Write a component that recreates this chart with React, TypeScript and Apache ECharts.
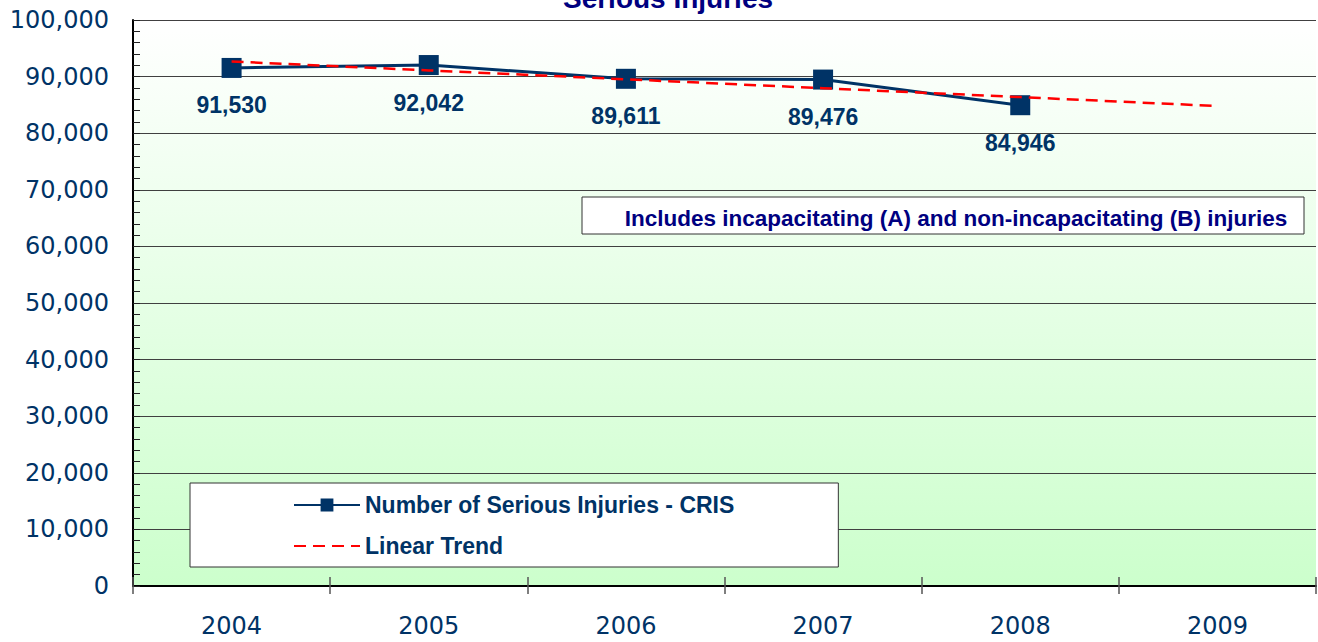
import React, { useEffect, useRef } from "react";
import * as echarts from "echarts";

const categories = ["2004", "2005", "2006", "2007", "2008", "2009"];
const injuries = [91530, 92042, 89611, 89476, 84946];
const trend = [92668, 91095, 89521, 87948, 86374, 84801];
const yMin = 0;
const yMax = 100000;
const yInterval = 10000;
const titleText = "Serious Injuries";
const noteText = "Includes incapacitating (A) and non-incapacitating (B) injuries";
const seriesNames = ["Number of Serious Injuries - CRIS", "Linear Trend"];

const NAVY = "#003366";
const fmt = (v: number) => Number(v).toLocaleString("en-US");

export default function App() {
  const ref = useRef<HTMLDivElement>(null);
  useEffect(() => {
    if (!ref.current) return;
    const chart = echarts.init(ref.current, null, { renderer: "svg" });
    chart.setOption({
      animation: false,
      backgroundColor: "#ffffff",
      grid: {
        left: 133,
        right: 2,
        top: 20,
        bottom: 56,
        show: true,
        borderWidth: 0,
        backgroundColor: new echarts.graphic.LinearGradient(0, 0, 0, 1, [
          { offset: 0, color: "#ffffff" },
          { offset: 1, color: "#ccffcc" },
        ]),
      },
      legend: {
        orient: "vertical",
        left: 190,
        top: 483,
        data: [
          { name: seriesNames[0] },
          { name: seriesNames[1], itemStyle: { opacity: 0 } },
        ],
        itemWidth: 66,
        itemHeight: 16,
        itemGap: 15,
        padding: [9, 104, 8, 103],
        backgroundColor: "#ffffff",
        borderColor: "#333333",
        borderWidth: 1,
        textStyle: {
          color: NAVY,
          fontWeight: "bold",
          fontSize: 23,
          lineHeight: 26,
          fontFamily: "Liberation Sans, Arial, sans-serif",
        },
      },
      xAxis: [
        {
          type: "category",
          data: categories,
          boundaryGap: true,
          axisLine: { show: true, lineStyle: { color: "#000000", width: 2 } },
          axisTick: { show: true, length: 8, lineStyle: { color: "#555555", width: 1.5 } },
          axisLabel: {
            color: NAVY,
            fontSize: 24,
            margin: 28,
            fontFamily: "DejaVu Sans, sans-serif",
          },
          splitLine: { show: false },
        },
        {
          type: "category",
          data: categories,
          boundaryGap: true,
          position: "bottom",
          axisLine: { show: false },
          axisTick: { show: true, inside: true, length: 9, lineStyle: { color: "#555555", width: 1.5 } },
          axisLabel: { show: false },
          splitLine: { show: false },
        },
      ],
      yAxis: {
        type: "value",
        min: yMin,
        max: yMax,
        interval: yInterval,
        axisLine: { show: true, lineStyle: { color: "#000000", width: 2 } },
        axisTick: { show: true, inside: true, length: 7, lineStyle: { color: "#222222" } },
        minorTick: { show: true, splitNumber: 5, length: 7, lineStyle: { color: "#222222" } },
        axisLabel: {
          color: NAVY,
          fontSize: 24,
          margin: 24,
          fontFamily: "DejaVu Sans, sans-serif",
          formatter: (v: number) => fmt(v),
        },
        splitLine: { show: true, lineStyle: { color: "#404040", width: 1 } },
      },
      series: [
        {
          name: seriesNames[0],
          type: "line",
          data: injuries,
          symbol: "rect",
          symbolSize: 20,
          lineStyle: { color: NAVY, width: 3 },
          itemStyle: { color: NAVY },
          label: {
            show: true,
            position: "bottom",
            distance: 16,
            color: NAVY,
            fontWeight: "bold",
            fontSize: 23,
            fontFamily: "Liberation Sans, Arial, sans-serif",
            formatter: (p: any) => fmt(p.value),
          },
          z: 2,
        },
        {
          name: seriesNames[1],
          type: "line",
          data: trend,
          symbol: "none",
          lineStyle: { color: "#ff0000", width: 2.5, type: [12, 7] },
          itemStyle: { color: "#ff0000" },
          z: 3,
        },
      ],
      graphic: [
        {
          type: "text",
          x: 668,
          y: 12,
          style: {
            text: titleText,
            fill: "#000080",
            font: "bold 28px 'Liberation Sans', Arial, sans-serif",
            textAlign: "center",
            textVerticalAlign: "bottom",
          },
          z: 10,
        },
        {
          type: "rect",
          shape: { x: 582, y: 197, width: 722, height: 37 },
          style: { fill: "#ffffff", stroke: "#333333", lineWidth: 1 },
          z: 10,
        },
        {
          type: "text",
          x: 956,
          y: 218,
          style: {
            text: noteText,
            fill: "#000080",
            font: "bold 22.5px 'Liberation Sans', Arial, sans-serif",
            textAlign: "center",
            textVerticalAlign: "middle",
          },
          z: 11,
        },
      ],
    });
    return () => chart.dispose();
  }, []);
  return (
    <div
      ref={ref}
      style={{ position: "fixed", left: 0, top: 0, width: 1318, height: 642, background: "#fff" }}
    />
  );
}
